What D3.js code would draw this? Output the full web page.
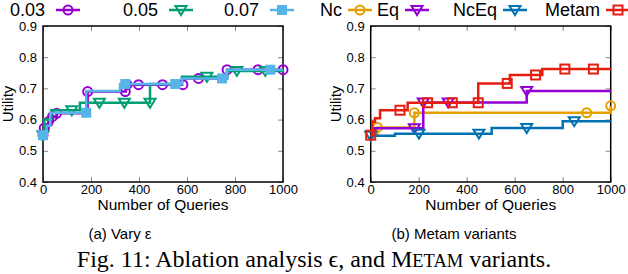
<!DOCTYPE html>
<html>
<head>
<meta charset="utf-8">
<script src="https://cdn.jsdelivr.net/npm/d3@7"></script>
<style>
body{margin:0;background:#fff;}
text{font-family:"Liberation Sans",Arial,sans-serif;fill:#000;}
</style>
</head>
<body>
<script>
// step points [queries, utility] and marker points for every series
var xTicks = [0, 200, 400, 600, 800, 1000];
var yTicks = [0.4, 0.5, 0.6, 0.7, 0.8, 0.9];

var epsNames = ["0.03", "0.05", "0.07"];
var eps003Steps = [[0,.55],[5,.573],[22,.593],[40,.61],[57,.62],[186,.69],[345,.712],[579,.732],[767,.76],[1000,.76]];
var eps003Marks = [[0,.55],[5,.573],[22,.593],[40,.61],[57,.62],[186,.69],[343,.69],[350,.712],[398,.712],[498,.712],[583,.712],[648,.732],[767,.76],[896,.76],[1000,.76]];
var eps005Steps = [[0,.55],[5,.6],[35,.63],[154,.654],[446,.714],[579,.737],[767,.756],[1000,.76]];
var eps005Marks = [[0,.55],[120,.63],[235,.654],[339,.654],[446,.654],[683,.737],[808,.756],[926,.756]];
var eps007Steps = [[0,.55],[15,.58],[30,.622],[180,.692],[321,.714],[579,.732],[767,.76],[1000,.76]];
var eps007Marks = [[0,.55],[180,.622],[343,.714],[551,.714],[746,.732],[947,.76]];

var varNames = ["Nc", "Eq", "NcEq", "Metam"];
var ncSteps = [[0,.55],[28,.575],[182,.622],[1000,.644]];
var ncMarks = [[28,.575],[182,.622],[900,.622],[1000,.644]];
var eqSteps = [[0,.55],[18,.572],[219,.655],[650,.692],[1000,.692]];
var eqMarks = [[182,.572],[219,.655],[323,.655],[650,.692]];
var ncEqSteps = [[0,.548],[101,.555],[504,.573],[800,.595],[1000,.595]];
var ncEqMarks = [[0,.548],[201,.555],[451,.555],[650,.573],[848,.595]];
var metamSteps = [[0,.55],[7,.593],[18,.604],[39,.63],[154,.654],[448,.716],[580,.743],[715,.762],[1000,.762]];
var metamMarks = [[0,.55],[122,.63],[237,.654],[340,.654],[448,.654],[569,.716],[687,.743],[809,.762],[928,.762]];

var svg = d3.select("body").append("svg").attr("width", 628).attr("height", 274);

function marker(g, type, color, x, y){
  if(type == "circle"){
    g.append("circle").attr("cx", x).attr("cy", y).attr("r", 4.5)
      .attr("fill", "none").attr("stroke", color).attr("stroke-width", 2);
  }
  else if(type == "tri"){
    g.append("path").attr("d", "M" + (x-5.5) + "," + (y-4) + "L" + (x+5.5) + "," + (y-4) + "L" + x + "," + (y+5) + "Z")
      .attr("fill", "none").attr("stroke", color).attr("stroke-width", 2).attr("stroke-linejoin", "miter");
  }
  else if(type == "square"){
    g.append("rect").attr("x", x-4.5).attr("y", y-4.5).attr("width", 9).attr("height", 9)
      .attr("fill", "none").attr("stroke", color).attr("stroke-width", 2);
  }
  else{
    g.append("rect").attr("x", x-5).attr("y", y-5).attr("width", 10).attr("height", 10)
      .attr("fill", color);
  }
}

function panel(left, series, capX, capText, legSize, legOff){
  var x = d3.scaleLinear().domain([0, 1000]).range([left, left + 240]);
  var y = d3.scaleLinear().domain([0.4, 0.9]).range([182, 26]);
  var g = svg.append("g");

  // ticks, mirrored on top and right
  g.append("g").attr("transform", "translate(0,182)")
    .call(d3.axisBottom(x).tickValues(xTicks).tickSize(-5).tickPadding(3).tickFormat(d3.format("d")));
  g.append("g").attr("transform", "translate(0,26)")
    .call(d3.axisTop(x).tickValues(xTicks).tickSize(-5).tickFormat(""));
  g.append("g").attr("transform", "translate(" + left + ",0)")
    .call(d3.axisLeft(y).tickValues(yTicks).tickSize(-5).tickPadding(6).tickFormat(d3.format(".1f")));
  g.append("g").attr("transform", "translate(" + (left + 240) + ",0)")
    .call(d3.axisRight(y).tickValues(yTicks).tickSize(-5).tickFormat(""));
  g.selectAll(".domain").remove();
  g.selectAll(".tick line").attr("stroke", "#888").attr("stroke-width", 1);
  g.selectAll(".tick text").style("font-size", "13px").style("font-family", "Liberation Sans, Arial, sans-serif");

  g.append("rect").attr("x", left).attr("y", 26).attr("width", 240).attr("height", 156)
    .attr("fill", "none").attr("stroke", "#000").attr("stroke-width", 1.5);

  var line = d3.line().x(function(d){ return x(d[0]); }).y(function(d){ return y(d[1]); }).curve(d3.curveStepAfter);
  for(var i = 0; i < series.length; i++){
    var s = series[i];
    g.append("path").attr("d", line(s.steps)).attr("fill", "none")
      .attr("stroke", s.color).attr("stroke-width", 2.5);
    for(var j = 0; j < s.marks.length; j++){
      marker(g, s.type, s.color, x(s.marks[j][0]), y(s.marks[j][1]));
    }
  }

  g.append("text").text("Number of Queries").attr("x", left + 120).attr("y", 210)
    .attr("text-anchor", "middle").style("font-size", "15.5px");
  g.append("text").text("Utility").attr("transform", "translate(" + (left - 30) + ",104) rotate(-90)")
    .attr("text-anchor", "middle").style("font-size", "15px");
  g.append("text").text(capText).attr("x", capX).attr("y", 239)
    .attr("text-anchor", "middle").style("font-size", "15px");

  // legend: label then sample
  for(var k = 0; k < series.length; k++){
    var sr = series[k];
    g.append("text").text(sr.name).attr("x", sr.lx).attr("y", 16)
      .attr("text-anchor", "end").style("font-size", legSize + "px");
    g.append("line").attr("x1", sr.lx + legOff - 12).attr("x2", sr.lx + legOff + 12).attr("y1", 10).attr("y2", 10)
      .attr("stroke", sr.color).attr("stroke-width", 2.5);
    marker(g, sr.type, sr.color, sr.lx + legOff, 10);
  }
}

panel(43, [
  {name: epsNames[0], steps: eps003Steps, marks: eps003Marks, color: "#9400d3", type: "circle", lx: 45},
  {name: epsNames[1], steps: eps005Steps, marks: eps005Marks, color: "#009e73", type: "tri", lx: 158},
  {name: epsNames[2], steps: eps007Steps, marks: eps007Marks, color: "#56b4e9", type: "fill", lx: 259}
], 120, "(a) Vary \u03b5", 18, 23);

panel(370.7, [
  {name: varNames[0], steps: ncSteps, marks: ncMarks, color: "#e69f00", type: "circle", lx: 342},
  {name: varNames[1], steps: eqSteps, marks: eqMarks, color: "#9400d3", type: "tri", lx: 399},
  {name: varNames[2], steps: ncEqSteps, marks: ncEqMarks, color: "#0072b2", type: "tri", lx: 497},
  {name: varNames[3], steps: metamSteps, marks: metamMarks, color: "#e51e10", type: "square", lx: 600}
], 454, "(b) Metam variants", 18, 18);

var cap = svg.append("text").attr("x", 314).attr("y", 267).attr("text-anchor", "middle")
  .style("font-family", "Liberation Serif, Times New Roman, serif").style("font-size", "24px");
cap.append("tspan").text("Fig. 11: Ablation analysis \u03f5, and M");
cap.append("tspan").text("ETAM").style("font-size", "18.5px");
cap.append("tspan").text(" variants.");
</script>
</body>
</html>
